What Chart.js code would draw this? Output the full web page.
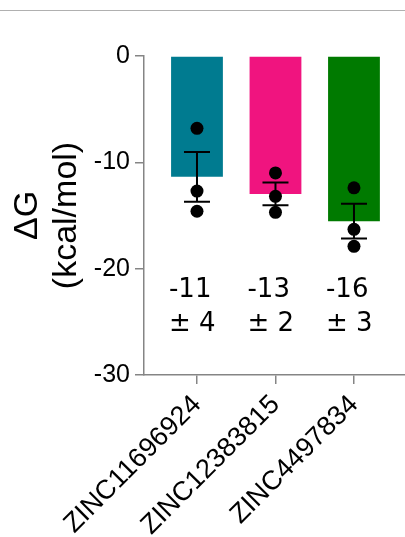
<!DOCTYPE html>
<html>
<head>
<meta charset="utf-8">
<script src="https://cdn.jsdelivr.net/npm/chart.js@4"></script>
<style>
  html, body { margin: 0; padding: 0; background: #fff; }
  #wrap { position: relative; width: 405px; height: 537px; }
  #rule { position: absolute; left: 0; top: 10px; width: 405px; height: 0; border-top: 1px solid #b0b0b0; }
  canvas { display: block; }
</style>
</head>
<body>
<div id="wrap">
  <canvas id="c" width="405" height="537"></canvas>
  <div id="rule"></div>
</div>
<script>
// Binding free energies (kcal/mol) from three replicate runs per compound
const compounds = ['ZINC11696924', 'ZINC12383815', 'ZINC4497834'];
const dgZINC11696924 = [-6.8, -12.7, -14.6];
const dgZINC12383815 = [-11.0, -13.2, -14.7];
const dgZINC4497834 = [-12.4, -16.3, -17.9];
const yTicks = [0, -10, -20, -30];

const barColors = ['#007b90', '#f0147f', '#007a00'];

// Summary statistics: bar = mean, error bar = SEM, annotation = mean ± SD
const replicates = [dgZINC11696924, dgZINC12383815, dgZINC4497834];
const mean = a => a.reduce((s, v) => s + v, 0) / a.length;
const stdev = a => {
  const m = mean(a);
  return Math.sqrt(a.reduce((s, v) => s + (v - m) ** 2, 0) / (a.length - 1));
};
const means = replicates.map(mean);
const sds = replicates.map(stdev);
const sems = replicates.map((a, i) => sds[i] / Math.sqrt(a.length));

const axisGray = '#858585';

const errorBars = {
  id: 'errorBars',
  afterDatasetsDraw(chart) {
    const { ctx, scales: { x, y } } = chart;
    ctx.save();
    ctx.strokeStyle = '#000';
    ctx.lineWidth = 2;
    means.forEach((m, i) => {
      const px = x.getPixelForValue(i + 1);
      const top = y.getPixelForValue(m + sems[i]);
      const bot = y.getPixelForValue(m - sems[i]);
      ctx.beginPath();
      ctx.moveTo(px, top); ctx.lineTo(px, bot);
      ctx.moveTo(px - 13, top); ctx.lineTo(px + 13, top);
      ctx.moveTo(px - 13, bot); ctx.lineTo(px + 13, bot);
      ctx.stroke();
    });
    ctx.restore();
  }
};

const summaryText = {
  id: 'summaryText',
  afterDraw(chart) {
    const { ctx, scales: { x, y } } = chart;
    ctx.save();
    ctx.fillStyle = '#000';
    ctx.font = '26px "DejaVu Sans"';
    ctx.textAlign = 'left';
    ctx.textBaseline = 'alphabetic';
    means.forEach((m, i) => {
      const px = x.getPixelForValue(i + 1) - 28;
      const py = y.getPixelForValue(-22.7);
      ctx.fillText(String(Math.round(m)), px, py);
      ctx.fillText('± ' + Math.round(sds[i]), px, py + 34);
    });
    ctx.restore();
  }
};

new Chart(document.getElementById('c'), {
  data: {
    datasets: [
      {
        type: 'scatter',
        data: replicates.flatMap((a, i) => a.map(v => ({ x: i + 1, y: v }))),
        pointRadius: 6.5,
        pointHoverRadius: 6.5,
        backgroundColor: '#000',
        borderWidth: 0,
        order: 0
      },
      {
        type: 'bar',
        data: means.map((m, i) => ({ x: i + 1, y: m })),
        backgroundColor: barColors,
        borderWidth: 0,
        barPercentage: 0.66,
        categoryPercentage: 1,
        order: 1
      }
    ]
  },
  options: {
    responsive: false,
    animation: false,
    events: [],
    layout: { autoPadding: false, padding: { top: 56, right: 0, bottom: 0, left: 0 } },
    plugins: { legend: { display: false }, tooltip: { enabled: false } },
    scales: {
      x: {
        type: 'linear',
        bounds: 'data',
        offset: false,
        min: 0.325,
        max: 3.65,
        afterBuildTicks: s => { s.ticks = compounds.map((_, i) => ({ value: i + 1 })); },
        afterFit: s => { s.height = 162; s.paddingRight = 0; s.paddingLeft = 0; },
        ticks: {
          callback: v => compounds[Math.round(v) - 1],
          font: { family: '"Liberation Sans", Arial, sans-serif', size: 27 },
          color: '#000',
          minRotation: 45,
          maxRotation: 45,
          autoSkip: false,
          padding: 5
        },
        grid: { offset: false, drawOnChartArea: false, drawTicks: true, tickLength: 9, color: axisGray, lineWidth: 1.5 },
        border: { color: axisGray, width: 1.5 }
      },
      y: {
        type: 'linear',
        min: -30,
        max: 0,
        afterBuildTicks: s => { s.ticks = yTicks.map(v => ({ value: v })); },
        afterFit: s => { s.width = 144; },
        ticks: {
          callback: v => String(v),
          font: { family: '"Liberation Sans", Arial, sans-serif', size: 25 },
          color: '#000',
          padding: 5
        },
        grid: { drawOnChartArea: false, drawTicks: true, tickLength: 9, color: axisGray, lineWidth: 1.5 },
        border: { color: axisGray, width: 1.5 },
        title: {
          display: true,
          text: ['ΔG', '(kcal/mol)'],
          font: { family: '"Liberation Sans", Arial, sans-serif', size: 34, lineHeight: 1.15 },
          color: '#000',
          padding: { top: 8, bottom: 0 }
        }
      }
    }
  },
  plugins: [errorBars, summaryText]
});
</script>
</body>
</html>
